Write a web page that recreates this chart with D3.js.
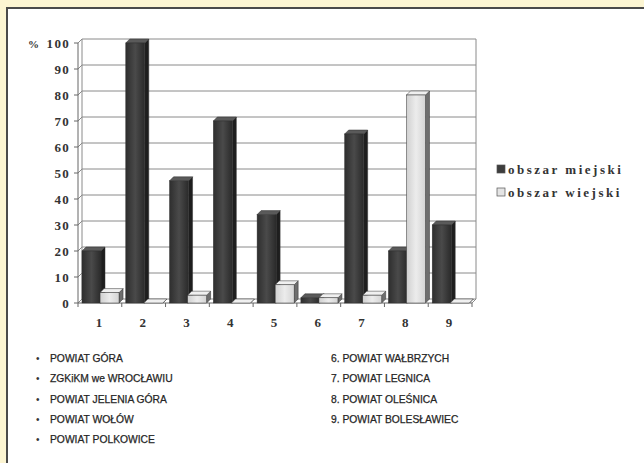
<!DOCTYPE html>
<html>
<head>
<meta charset="utf-8">
<script src="https://cdn.jsdelivr.net/npm/d3@7"></script>
<style>
  html, body { margin: 0; padding: 0; background: #fcf5d2; }
  svg { display: block; }
</style>
</head>
<body>
<svg id="chart" width="644" height="463"></svg>
<script>
// District numbers along the x axis
const categories = ["1", "2", "3", "4", "5", "6", "7", "8", "9"];
// Share (%) for urban and rural areas
const urbanValues = [20, 100, 47, 70, 34, 2, 65, 20, 30];
const ruralValues = [4, 0, 3, 0, 7, 2, 3, 80, 0];
const seriesNames = ["obszar miejski", "obszar wiejski"];
const yTicks = [0, 10, 20, 30, 40, 50, 60, 70, 80, 90, 100];
const listLeft = ["POWIAT GÓRA", "ZGKiKM we WROCŁAWIU", "POWIAT JELENIA GÓRA", "POWIAT WOŁÓW", "POWIAT POLKOWICE"];
const listRight = ["6. POWIAT WAŁBRZYCH", "7. POWIAT LEGNICA", "8. POWIAT OLEŚNICA", "9. POWIAT BOLESŁAWIEC"];

const svg = d3.select("#chart");
const W = 644, H = 463;
const serif = "'Liberation Serif', 'DejaVu Serif', serif";
const sans = "'Liberation Sans', Arial, sans-serif";

// White panel with a dark frame on top and left
svg.append("rect").attr("x", 7).attr("y", 8).attr("width", W).attr("height", H).attr("fill", "#ffffff");
svg.append("line").attr("x1", 6).attr("x2", W).attr("y1", 8).attr("y2", 8).attr("stroke", "#4a4a4a").attr("stroke-width", 2);
svg.append("line").attr("x1", 7).attr("x2", 7).attr("y1", 8).attr("y2", H).attr("stroke", "#4a4a4a").attr("stroke-width", 2);

// Plot geometry (3D look: depth offset dx, dy)
const dx = 4, dy = -4;
const x0 = 78, x1 = 472;
const x = d3.scaleBand().domain(categories).range([x0, x1]).paddingInner(0).paddingOuter(0);
const y = d3.scaleLinear().domain([0, 100]).range([303, 43]);
const sub = d3.scaleBand().domain(seriesNames).range([4, 41]).paddingInner(-0.05);

const g = svg.append("g");

// Back wall gridlines
yTicks.forEach(t => {
  const yy = y(t) + dy;
  g.append("line").attr("x1", x0 + dx).attr("x2", x1 + dx).attr("y1", yy).attr("y2", yy)
    .attr("stroke", "#8a8a8a").attr("stroke-width", 1);
  // side wall diagonal
  g.append("line").attr("x1", x0).attr("x2", x0 + dx).attr("y1", y(t)).attr("y2", yy)
    .attr("stroke", "#8a8a8a").attr("stroke-width", 1);
});
// back wall edges
g.append("line").attr("x1", x1 + dx).attr("x2", x1 + dx).attr("y1", y(100) + dy).attr("y2", y(0) + dy)
  .attr("stroke", "#8a8a8a");
g.append("line").attr("x1", x0 + dx).attr("x2", x0 + dx).attr("y1", y(100) + dy).attr("y2", y(0) + dy)
  .attr("stroke", "#8a8a8a");
// front vertical axis
g.append("line").attr("x1", x0).attr("x2", x0).attr("y1", y(100)).attr("y2", y(0))
  .attr("stroke", "#666");
// floor front edge and right edge
g.append("line").attr("x1", x0).attr("x2", x1).attr("y1", y(0)).attr("y2", y(0)).attr("stroke", "#666");
g.append("line").attr("x1", x1).attr("x2", x1 + dx).attr("y1", y(0)).attr("y2", y(0) + dy).attr("stroke", "#888");

// Bars
const styles = {
  "obszar miejski": { side: "#1e1e1e", top: "#5a5a5a", fill: "url(#gu)" },
  "obszar wiejski": { side: "#6e6e6e", top: "#f0f0f0", fill: "url(#gr)" }
};
const bw = 19;
const defs = svg.append("defs");
const gradU = defs.append("linearGradient").attr("id", "gu");
gradU.append("stop").attr("offset", "0%").attr("stop-color", "#2e2e2e");
gradU.append("stop").attr("offset", "50%").attr("stop-color", "#4a4a4a");
gradU.append("stop").attr("offset", "100%").attr("stop-color", "#2a2a2a");
const gradR = defs.append("linearGradient").attr("id", "gr");
gradR.append("stop").attr("offset", "0%").attr("stop-color", "#d0d0d0");
gradR.append("stop").attr("offset", "50%").attr("stop-color", "#ececec");
gradR.append("stop").attr("offset", "100%").attr("stop-color", "#d4d4d4");

function drawBar(cat, series, v) {
  const st = styles[series];
  const bx = x(cat) + sub(series);
  const top = y(v), base = y(0);
  const bar = g.append("g");
  // side face
  bar.append("path")
    .attr("d", `M${bx + bw},${base} L${bx + bw + dx},${base + dy} L${bx + bw + dx},${top + dy} L${bx + bw},${top} Z`)
    .attr("fill", st.side).attr("stroke", "#333").attr("stroke-width", 0.5);
  // top face
  bar.append("path")
    .attr("d", `M${bx},${top} L${bx + dx},${top + dy} L${bx + bw + dx},${top + dy} L${bx + bw},${top} Z`)
    .attr("fill", st.top).attr("stroke", "#333").attr("stroke-width", 0.5);
  // front face
  bar.append("rect").attr("x", bx).attr("y", top).attr("width", bw).attr("height", Math.max(0, base - top))
    .attr("fill", st.fill).attr("stroke", "#333").attr("stroke-width", 0.5);
}
categories.forEach((c, i) => {
  drawBar(c, seriesNames[0], urbanValues[i]);
  drawBar(c, seriesNames[1], ruralValues[i]);
});

// Y axis ticks and labels
yTicks.forEach(t => {
  g.append("line").attr("x1", x0 - 4).attr("x2", x0).attr("y1", y(t)).attr("y2", y(t)).attr("stroke", "#666");
  g.append("text").attr("x", x0 - 8).attr("y", y(t) + 4.5).attr("text-anchor", "end")
    .attr("font-family", serif).attr("font-weight", "bold").attr("font-size", 13).attr("fill", "#333")
    .attr("letter-spacing", 1.3)
    .text(t);
});
g.append("text").attr("x", 28).attr("y", y(100) + 4.5)
  .attr("font-family", serif).attr("font-weight", "bold").attr("font-size", 11).attr("fill", "#333")
  .text("%");
// X axis ticks and labels
categories.forEach(c => {
  g.append("line").attr("x1", x(c)).attr("x2", x(c)).attr("y1", y(0)).attr("y2", y(0) + 4).attr("stroke", "#666");
  g.append("text").attr("x", x(c) + x.bandwidth() / 2 - 1).attr("y", y(0) + 24).attr("text-anchor", "middle")
    .attr("font-family", serif).attr("font-weight", "bold").attr("font-size", 13).attr("fill", "#333")
    .text(c);
});
g.append("line").attr("x1", x1).attr("x2", x1).attr("y1", y(0)).attr("y2", y(0) + 4).attr("stroke", "#666");

// Legend
seriesNames.forEach((s, i) => {
  const ly = 174 + i * 23;
  svg.append("rect").attr("x", 497).attr("y", ly - 9).attr("width", 8).attr("height", 8)
    .attr("fill", i === 0 ? "#3d3d3d" : "#e4e4e4").attr("stroke", "#555").attr("stroke-width", 0.7);
  svg.append("text").attr("x", 508).attr("y", ly).attr("font-family", serif).attr("font-weight", "bold")
    .attr("font-size", 13).attr("letter-spacing", 2.5).attr("fill", "#333").text(s);
});

// District list
listLeft.forEach((t, i) => {
  const ly = 362 + i * 20.3;
  svg.append("text").attr("x", 36).attr("y", ly).attr("font-family", sans).attr("font-size", 10).attr("fill", "#333").text("•");
  svg.append("text").attr("x", 50).attr("y", ly).attr("font-family", sans).attr("font-size", 10.3)
    .attr("fill", "#262626").attr("stroke", "#262626").attr("stroke-width", 0.25).text(t);
});
listRight.forEach((t, i) => {
  const ly = 362 + i * 20.3;
  svg.append("text").attr("x", 331).attr("y", ly).attr("font-family", sans).attr("font-size", 10.3)
    .attr("fill", "#262626").attr("stroke", "#262626").attr("stroke-width", 0.25).text(t);
});
</script>
</body>
</html>
